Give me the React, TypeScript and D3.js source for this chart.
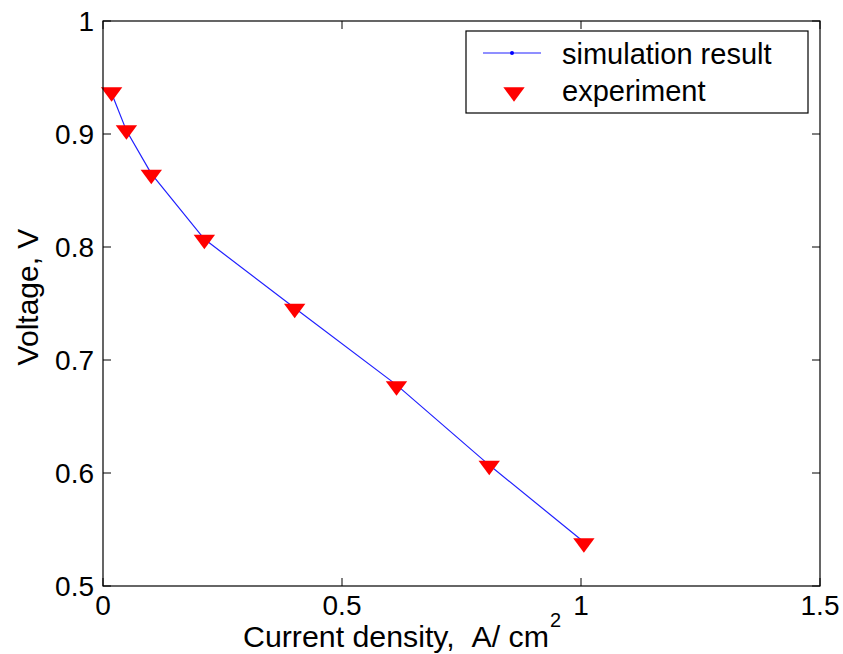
import { line, scaleLinear, symbol, symbolTriangle } from "d3";

// experiment points (current density A/cm2, voltage V)
const expX = [0.018, 0.049, 0.101, 0.212, 0.401, 0.614, 0.808, 1.006];
const expY = [0.937, 0.9035, 0.864, 0.8066, 0.7456, 0.677, 0.6066, 0.538];

// simulation curve
const simX = [0.018, 0.049, 0.101, 0.212, 0.401, 0.614, 0.808, 1.006];
const simY = [0.936, 0.903, 0.865, 0.807, 0.746, 0.678, 0.607, 0.539];

const xTicks = [0, 0.5, 1, 1.5];
const yTicks = [0.5, 0.6, 0.7, 0.8, 0.9, 1];
const xTickLabels = ["0", "0.5", "1", "1.5"];
const yTickLabels = ["0.5", "0.6", "0.7", "0.8", "0.9", "1"];

const W = 843;
const H = 654;
const margin = { top: 21, right: 23, bottom: 68, left: 103 };
const innerW = W - margin.left - margin.right;
const innerH = H - margin.top - margin.bottom;
const font = "'Liberation Sans', Arial, Helvetica, sans-serif";

export default function App() {
  const x = scaleLinear().domain([0, 1.5]).range([0, innerW]);
  const y = scaleLinear().domain([0.5, 1]).range([innerH, 0]);

  const simPath = line<number>()
    .x((_, i) => x(simX[i]))
    .y((d) => y(d))(simY);

  const tri = symbol().type(symbolTriangle).size(150)();
  const tickLen = 8;

  return (
    <svg
      width={W}
      height={H}
      style={{ position: "absolute", left: 0, top: 0, background: "#fff" }}
      fontFamily={font}
    >
      <g transform={`translate(${margin.left},${margin.top})`}>
        {/* simulation line */}
        <path d={simPath ?? ""} fill="none" stroke="#2020ff" strokeWidth={1.2} />
        {simX.map((v, i) => (
          <circle key={`s${i}`} cx={x(v)} cy={y(simY[i])} r={1.5} fill="#0000ff" />
        ))}

        {/* experiment markers */}
        {expX.map((v, i) => (
          <path
            key={`e${i}`}
            d={tri}
            transform={`translate(${x(v)},${y(expY[i])}) rotate(180) scale(1.15,0.9)`}
            fill="#ff0000"
          />
        ))}

        {/* frame */}
        <rect width={innerW} height={innerH} fill="none" stroke="#000" strokeWidth={1.2} />

        {/* x ticks */}
        {xTicks.map((t, i) => (
          <g key={`xt${i}`}>
            <line x1={x(t)} x2={x(t)} y1={innerH} y2={innerH - tickLen} stroke="#000" />
            <line x1={x(t)} x2={x(t)} y1={0} y2={tickLen} stroke="#000" />
            <text x={x(t)} y={innerH + 29} textAnchor="middle" fontSize={28}>
              {xTickLabels[i]}
            </text>
          </g>
        ))}

        {/* y ticks */}
        {yTicks.map((t, i) => (
          <g key={`yt${i}`}>
            <line x1={0} x2={tickLen} y1={y(t)} y2={y(t)} stroke="#000" />
            <line x1={innerW} x2={innerW - tickLen} y1={y(t)} y2={y(t)} stroke="#000" />
            <text x={-9} y={y(t) + 10} textAnchor="end" fontSize={28}>
              {yTickLabels[i]}
            </text>
          </g>
        ))}
      </g>

      {/* axis labels */}
      <text x={243} y={647} fontSize={29} textLength={306} lengthAdjust="spacingAndGlyphs">
        Current density,{"\u00a0\u00a0"}A/ cm
      </text>
      <text x={550} y={627} fontSize={20}>2</text>
      <text transform="translate(38,297) rotate(-90)" textAnchor="middle" fontSize={30}>
        Voltage, V
      </text>

      {/* legend */}
      <g>
        <rect x={466} y={31} width={342} height={82} fill="#fff" stroke="#000" strokeWidth={1.2} />
        <line x1={483} x2={541} y1={53} y2={53} stroke="#2020ff" strokeWidth={1.2} />
        <circle cx={512} cy={53} r={2} fill="#0000ff" />
        <path d={tri} transform="translate(514,92) rotate(180) scale(1.15,0.9)" fill="#ff0000" />
        <text x={562} y={64} fontSize={29}>simulation result</text>
        <text x={562} y={101} fontSize={29}>experiment</text>
      </g>
    </svg>
  );
}
